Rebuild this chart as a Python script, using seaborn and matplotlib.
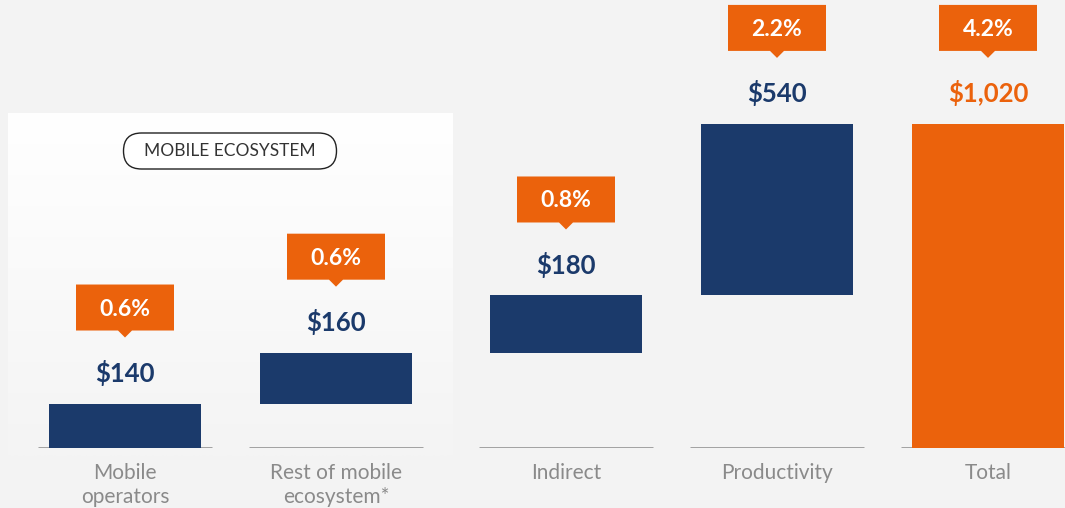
import numpy as np
import pandas as pd
import matplotlib
matplotlib.use("Agg")
import matplotlib.pyplot as plt
import seaborn as sns
from matplotlib.patches import Polygon, FancyBboxPatch
from matplotlib.transforms import Affine2D, ScaledTranslation

# ---- data ----
categories = ["Mobile\noperators", "Rest of mobile\necosystem*", "Indirect", "Productivity", "Total"]
values = [140, 160, 180, 540, 1020]
shares = ["0.6%", "0.6%", "0.8%", "2.2%", "4.2%"]
groups = ["eco", "eco", "other", "other", "other"]
is_total = [False, False, False, False, True]
group_title = "MOBILE ECOSYSTEM"

starts = []
run = 0
for v, t in zip(values, is_total):
    starts.append(0 if t else run)
    run = 0 if t else run + v
value_labels = [f"${v:,}" for v in values]

df = pd.DataFrame({"category": categories, "value": values, "start": starts,
                   "share": shares, "group": groups, "total": is_total,
                   "label": value_labels})

NAVY = "#1B3A6B"
ORANGE = "#EB620C"
BG = "#F3F3F3"
GRID = "#9A9A9A"
LABEL = "#8A8A8A"

sns.set_theme(style="white")
plt.rcParams["font.family"] = ["Lato", "DejaVu Sans"]

W, H, DPI = 1065, 508, 100
fig = plt.figure(figsize=(W / DPI, H / DPI), dpi=DPI, facecolor=BG)
px = Affine2D().scale(1 / DPI) + fig.dpi_scale_trans  # pixel units from bottom-left

# white gradient panel behind mobile ecosystem
pan = fig.add_axes([8 / W, (H - 456) / H, 445 / W, (456 - 113) / H], zorder=0)
grad = np.linspace(1.0, 0.0, 256).reshape(-1, 1, 1)
top_c = np.array([1.0, 1.0, 1.0])
bot_c = np.array([0xF4, 0xF4, 0xF4]) / 255
img = grad * top_c + (1 - grad) * bot_c
pan.imshow(img, aspect="auto", extent=[0, 1, 0, 1])
pan.set_axis_off()

YMAX = 1410
base_frac = 60 / H
ax_h = (H - 60) / H
slot = 211
axL = fig.add_axes([(125 - slot / 2) / W, base_frac, 2 * slot / W, ax_h], zorder=2)
axR = fig.add_axes([(566 - slot / 2) / W, base_frac, 3 * slot / W, ax_h], zorder=2)

BAR_W = 152 / slot
LINE_HALF = 87 / slot

for ax, grp in [(axL, "eco"), (axR, "other")]:
    sub = df[df["group"] == grp].reset_index(drop=True)
    sns.barplot(data=sub, x="category", y="value", ax=ax, color=NAVY,
                width=BAR_W, errorbar=None, saturation=1, linewidth=0,
                order=list(sub["category"]))
    for i, (patch, row) in enumerate(zip(ax.patches, sub.itertuples())):
        patch.set_y(row.start)
        patch.set_facecolor(ORANGE if row.total else NAVY)
        patch.set_zorder(3)
        ax.hlines(0, i - LINE_HALF, i + LINE_HALF, color=GRID, lw=2, zorder=2)
        top = row.start + row.value
        # value label
        ax.annotate(row.label, (i, top), xytext=(0, 22), textcoords="offset points",
                    ha="center", va="center", fontsize=18.5, fontweight="bold",
                    color=ORANGE if row.total else NAVY, annotation_clip=False)
        # callout box (pixel units)
        scale = fig.dpi / 100
        tr = Affine2D().scale(scale) + ScaledTranslation(i, top, ax.transData)
        bw, bh, gap, ph, pw = 98, 46, 73, 7, 7
        poly = [(-bw / 2, gap), (-pw, gap), (0, gap - ph), (pw, gap),
                (bw / 2, gap), (bw / 2, gap + bh), (-bw / 2, gap + bh)]
        ax.add_patch(Polygon(poly, closed=True, facecolor=ORANGE, edgecolor="none",
                             transform=tr, clip_on=False, zorder=4))
        ax.annotate(row.share, (i, top), xytext=(0, (gap + bh / 2 - 1.5) * 0.72),
                    textcoords="offset points", ha="center", va="center",
                    fontsize=16.5, fontweight="bold", color="white",
                    annotation_clip=False, zorder=5)
    ax.set_ylim(0, YMAX)
    ax.set_xlim(-0.5, len(sub) - 0.5)
    ax.set_facecolor("none")
    for s in ax.spines.values():
        s.set_visible(False)
    ax.set_yticks([])
    ax.set_xlabel("")
    ax.set_ylabel("")
    ax.tick_params(axis="x", length=0, pad=11, labelsize=15, labelcolor=LABEL)
    for t in ax.get_xticklabels():
        t.set_linespacing(1.25)

# "MOBILE ECOSYSTEM" pill (pixel units, y from bottom)
pill_w, pill_h = 213, 36
cx, cy = 230, H - 151
pill = FancyBboxPatch((cx - pill_w / 2, cy - pill_h / 2), pill_w, pill_h,
                      boxstyle="round,pad=0,rounding_size=18",
                      transform=px, facecolor="white",
                      edgecolor="#222222", lw=1.0, zorder=5)
fig.patches.append(pill)
fig.text(cx, cy, group_title, ha="center", va="center", transform=px,
         fontsize=12.5, fontweight="normal", color="#333333", zorder=6)

fig.savefig("out.png", dpi=DPI, facecolor=BG)
